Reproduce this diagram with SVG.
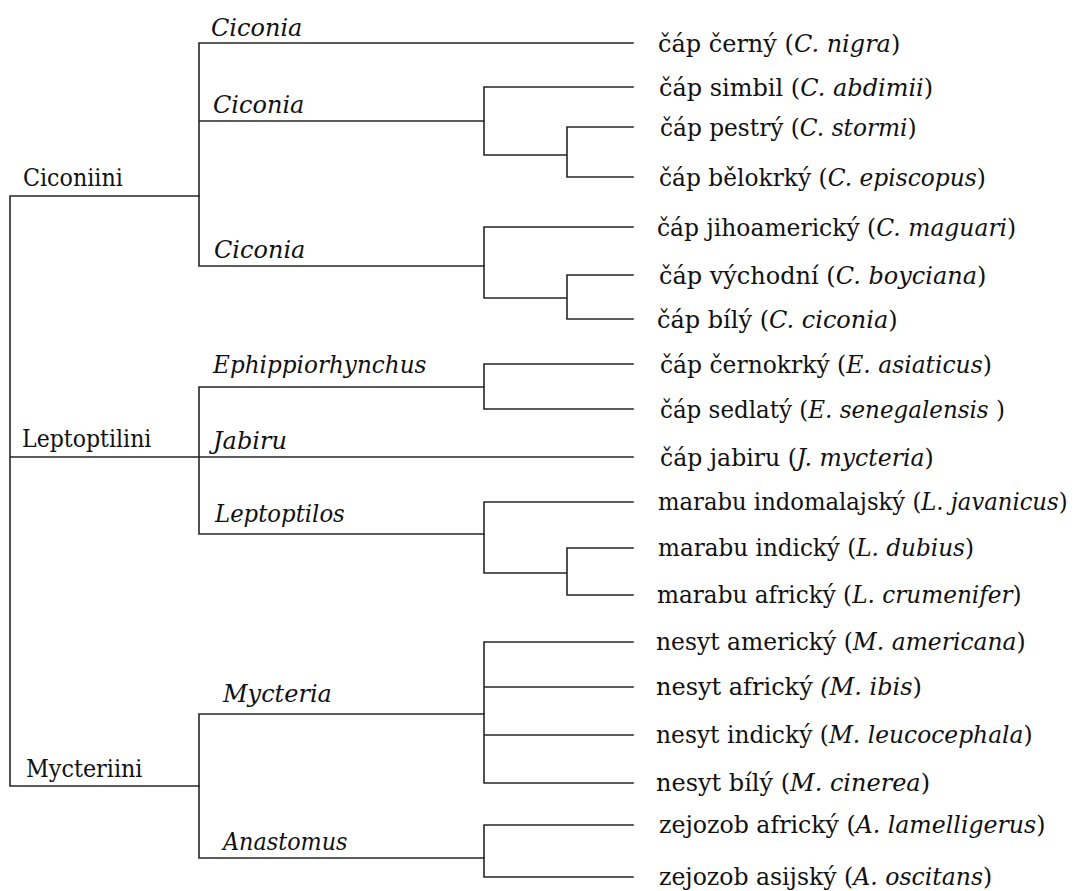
<svg xmlns="http://www.w3.org/2000/svg" width="1078" height="891" viewBox="0 0 1078 891">
<style>
  .ln { fill: none; stroke: #262626; stroke-width: 1.6; stroke-linecap: square; }
  .it { font-style: italic; }
  .lbl { font-family: "DejaVu Serif", "Liberation Serif", serif; font-size: 24px; fill: #111; }
</style>
<rect width="1078" height="891" fill="#ffffff"/>
<g id="connectors" class="ln">
  <path d="M10,196 V786 M10,196 H199 M10,457 H199 M10,786 H199"/>
  <path d="M199,43 V266 M199,43 H633 M199,121 H484 M199,266 H484"/>
  <path d="M484,87 V155 M484,87 H633 M484,155 H567 M567,127 V177 M567,127 H633 M567,177 H633"/>
  <path d="M484,227 V298 M484,227 H633 M484,298 H567 M567,275 V319 M567,275 H633 M567,319 H633"/>
  <path d="M199,387 V534 M199,387 H484 M199,457 H633 M199,534 H484"/>
  <path d="M484,364 V409 M484,364 H633 M484,409 H633"/>
  <path d="M484,502 V573 M484,502 H633 M484,573 H567 M567,548 V595 M567,548 H633 M567,595 H633"/>
  <path d="M199,714 V858 M199,714 H484 M199,858 H484"/>
  <path d="M484,642 V783 M484,642 H633 M484,687 H633 M484,735 H633 M484,783 H633"/>
  <path d="M484,825 V877 M484,825 H633 M484,877 H633"/>
</g>
<g class="lbl">
<g id="tribe-ciconiini"><text transform="translate(23 186) scale(0.926 1)">Ciconiini</text></g>
<g id="tribe-leptoptilini"><text transform="translate(22 447) scale(0.92 1)">Leptoptilini</text></g>
<g id="tribe-mycteriini"><text transform="translate(26 777) scale(0.93 1)">Mycteriini</text></g>
<g id="genus-ciconia-1"><text class="it" x="211" y="36">Ciconia</text></g>
<g id="genus-ciconia-2"><text class="it" x="213" y="113">Ciconia</text></g>
<g id="genus-ciconia-3"><text class="it" x="214" y="258">Ciconia</text></g>
<g id="genus-ephippiorhynchus"><text class="it" transform="translate(213 373) scale(0.964 1)">Ephippiorhynchus</text></g>
<g id="genus-jabiru"><text class="it" x="213" y="449">Jabiru</text></g>
<g id="genus-leptoptilos"><text class="it" transform="translate(215 522) scale(0.95 1)">Leptoptilos</text></g>
<g id="genus-mycteria"><text class="it" x="223" y="702">Mycteria</text></g>
<g id="genus-anastomus"><text class="it" transform="translate(223 850) scale(0.93 1)">Anastomus</text></g>
<g id="sp-nigra"><text x="658" y="52">čáp černý (<tspan class="it">C. nigra</tspan>)</text></g>
<g id="sp-abdimii"><text x="659" y="96">čáp simbil (<tspan class="it">C. abdimii</tspan>)</text></g>
<g id="sp-stormi"><text transform="translate(660 136) scale(0.97 1)">čáp pestrý (<tspan class="it">C. stormi</tspan>)</text></g>
<g id="sp-episcopus"><text transform="translate(659 186) scale(0.973 1)">čáp bělokrký (<tspan class="it">C. episcopus</tspan>)</text></g>
<g id="sp-maguari"><text transform="translate(657 236) scale(0.976 1)">čáp jihoamerický (<tspan class="it">C. maguari</tspan>)</text></g>
<g id="sp-boyciana"><text x="659" y="284">čáp východní (<tspan class="it">C. boyciana</tspan>)</text></g>
<g id="sp-ciconia"><text x="657" y="328">čáp bílý (<tspan class="it">C. ciconia</tspan>)</text></g>
<g id="sp-asiaticus"><text transform="translate(660 373) scale(0.976 1)">čáp černokrký (<tspan class="it">E. asiaticus</tspan>)</text></g>
<g id="sp-senegalensis"><text transform="translate(660 418) scale(0.958 1)">čáp sedlatý (<tspan class="it">E. senegalensis </tspan>)</text></g>
<g id="sp-mycteria"><text transform="translate(660 466) scale(0.982 1)">čáp jabiru (<tspan class="it">J. mycteria</tspan>)</text></g>
<g id="sp-javanicus"><text transform="translate(658 510) scale(0.947 1)">marabu indomalajský (<tspan class="it">L. javanicus</tspan>)</text></g>
<g id="sp-dubius"><text transform="translate(658 556) scale(0.963 1)">marabu indický (<tspan class="it">L. dubius</tspan>)</text></g>
<g id="sp-crumenifer"><text transform="translate(657 603) scale(0.966 1)">marabu africký (<tspan class="it">L. crumenifer</tspan>)</text></g>
<g id="sp-americana"><text transform="translate(656 650) scale(0.976 1)">nesyt americký (<tspan class="it">M. americana</tspan>)</text></g>
<g id="sp-ibis"><text x="656" y="695">nesyt africký <tspan class="it">(M. ibis</tspan>)</text></g>
<g id="sp-leucocephala"><text transform="translate(656 743) scale(0.974 1)">nesyt indický (<tspan class="it">M. leucocephala</tspan>)</text></g>
<g id="sp-cinerea"><text x="656" y="791">nesyt bílý (<tspan class="it">M. cinerea</tspan>)</text></g>
<g id="sp-lamelligerus"><text transform="translate(659 833) scale(0.985 1)">zejozob africký (<tspan class="it">A. lamelligerus</tspan>)</text></g>
<g id="sp-oscitans"><text transform="translate(659 885) scale(0.982 1)">zejozob asijský (<tspan class="it">A. oscitans</tspan>)</text></g>
</g>
</svg>
